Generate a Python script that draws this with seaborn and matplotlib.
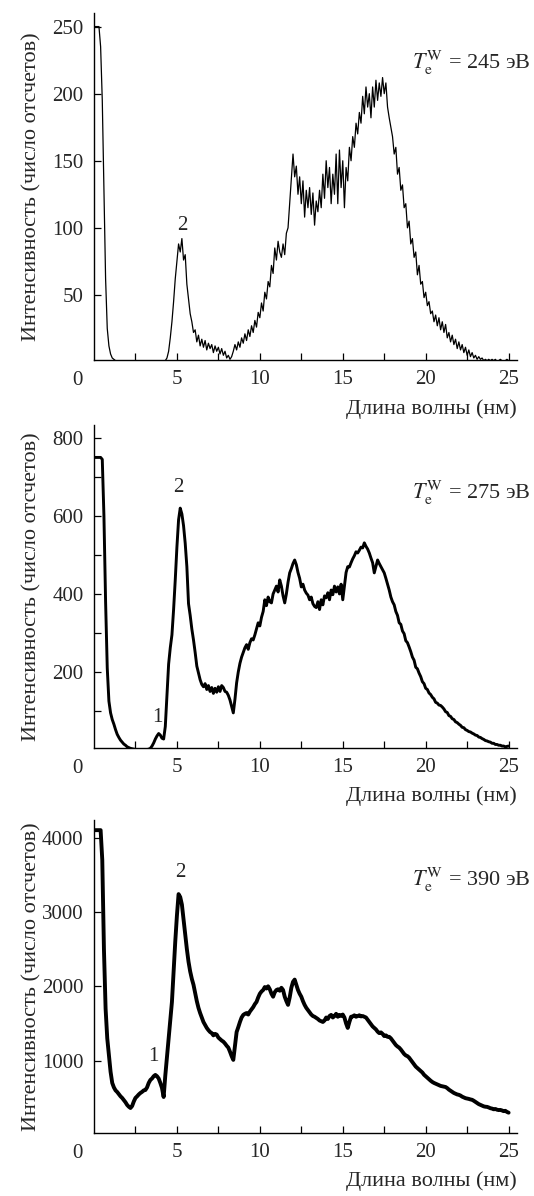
import numpy as np
import seaborn as sns
import matplotlib.pyplot as plt
from matplotlib.ticker import FixedLocator

sns.set_style('ticks')
plt.rcParams['font.family'] = ['Liberation Serif', 'DejaVu Serif']
plt.rcParams['mathtext.fontset'] = 'stix'

# Wavelength grid (nm), 0.1 nm sampling of the detector
wl = np.round(np.arange(0, 251) * 0.1, 1)

# T_e^W = 245 eV  (one row = 1 nm)
cnt_245 = [
    250, 250, 250, 250, 235, 195, 130, 62, 25, 12,
    6, 3, 2, 1, 1, 0.5, 0.5, 0.5, 0.5, 0.5,
    0.5, 0.5, 1, 0.5, 0.5, 0.5, 0.5, 0.5, 0.5, 0.5,
    0.5, 0.5, 0.5, 0.5, 0.5, 0.5, 0.5, 0.5, 0.5, 0.5,
    0.5, 0.5, 0.5, 1, 3, 8, 18, 30, 45, 62,
    75, 88, 82, 92, 76, 80, 58, 47, 36, 30,
    22, 24, 15, 20, 12, 17, 11, 16, 9, 14,
    10, 13, 7, 12, 8, 11, 6, 10, 5, 8,
    3, 5, 2, 4, 8, 13, 9, 15, 11, 18,
    14, 21, 16, 24, 19, 27, 22, 31, 26, 37,
    33, 44, 38, 52, 47, 60, 56, 72, 66, 85,
    76, 90, 82, 78, 88, 80, 96, 100, 118, 135,
    155, 138, 146, 125, 138, 118, 135, 108, 128, 115,
    130, 110, 126, 102, 120, 112, 128, 115, 140, 122,
    150, 130, 145, 118, 140, 125, 155, 118, 158, 130,
    150, 115, 145, 135, 160, 150, 168, 160, 178, 170,
    186, 178, 198, 185, 205, 190, 200, 182, 205, 190,
    210, 195, 208, 198, 212, 200, 208, 190, 182, 175,
    168, 155, 160, 140, 145, 128, 132, 115, 118, 100,
    105, 88, 92, 78, 82, 65, 72, 58, 60, 48,
    52, 42, 45, 36, 38, 30, 35, 27, 33, 24,
    30, 22, 28, 18, 22, 15, 20, 13, 17, 10,
    15, 9, 13, 7, 11, 5, 9, 4, 7, 3,
    5, 2, 4, 2, 3, 1, 2, 1, 2, 1,
    2, 1, 2, 0.5, 1, 2, 1, 0.5, 1, 2,
    1,
]

# T_e^W = 275 eV
cnt_275 = [
    750, 750, 750, 750, 750, 745, 600, 380, 210, 125,
    95, 78, 66, 52, 40, 32, 25, 20, 15, 12,
    8, 6, 4, 3, 2, 1, 1, 1, 1, 1,
    1, 1, 1, 2, 4, 10, 18, 28, 36, 42,
    38, 30, 28, 60, 140, 220, 262, 295, 360, 436,
    520, 590, 620, 605, 575, 530, 470, 375, 345, 310,
    282, 250, 215, 197, 180, 168, 162, 170, 155, 165,
    150, 160, 145, 158, 148, 162, 150, 165, 160, 150,
    148, 140, 128, 112, 95, 130, 172, 200, 222, 238,
    250, 262, 270, 258, 275, 285, 282, 295, 310, 326,
    318, 340, 355, 385, 370, 392, 380, 377, 400, 410,
    420, 405, 436, 420, 395, 377, 400, 430, 454, 465,
    478, 487, 475, 455, 440, 418, 425, 410, 402, 397,
    385, 392, 375, 368, 365, 380, 360, 385, 372, 395,
    390, 403, 385, 410, 398, 420, 405, 418, 400, 425,
    385, 420, 455, 470, 469, 480, 490, 498, 508, 505,
    512, 520, 518, 531, 522, 515, 505, 492, 480, 454,
    470, 487, 478, 470, 462, 454, 440, 425, 410, 392,
    380, 372, 355, 345, 326, 322, 305, 298, 280, 275,
    264, 252, 238, 230, 212, 208, 197, 188, 175, 170,
    158, 155, 146, 142, 135, 131, 122, 120, 115, 114,
    110, 105, 98, 96, 88, 86, 80, 78, 72, 70,
    66, 63, 58, 57, 52, 50, 47, 46, 43, 41,
    38, 37, 33, 32, 29, 27, 24, 23, 21, 20,
    17, 17, 14, 14, 12, 12, 10, 10, 8, 9,
    10,
]

# T_e^W = 390 eV
cnt_390 = [
    4100, 4100, 4100, 4100, 4100, 3700, 2500, 1700, 1300, 1075,
    850, 700, 640, 600, 578, 550, 520, 498, 470, 440,
    404, 380, 363, 390, 450, 498, 520, 545, 565, 580,
    600, 605, 640, 700, 740, 760, 790, 808, 790, 760,
    700, 632, 511, 800, 1050, 1300, 1550, 1790, 2200, 2600,
    2950, 3240, 3200, 3100, 2900, 2700, 2500, 2330, 2200, 2100,
    2020, 1910, 1800, 1710, 1640, 1580, 1520, 1480, 1440, 1410,
    1385, 1370, 1340, 1360, 1350, 1310, 1290, 1270, 1255, 1230,
    1200, 1175, 1120, 1060, 1010, 1200, 1385, 1450, 1520, 1580,
    1615, 1630, 1640, 1620, 1660, 1690, 1720, 1760, 1790, 1850,
    1900, 1930, 1950, 1990, 1970, 2000, 1960, 1900, 1860, 1920,
    1950, 1960, 1940, 1980, 1950, 1860, 1800, 1750, 1850, 1980,
    2060, 2090, 2020, 1950, 1900, 1860, 1800, 1750, 1710, 1680,
    1650, 1620, 1600, 1590, 1575, 1560, 1540, 1530, 1520, 1540,
    1580, 1560, 1600, 1615, 1580, 1600, 1630, 1590, 1615, 1600,
    1620, 1580, 1500, 1440, 1520, 1590, 1595, 1610, 1590, 1600,
    1610, 1595, 1600, 1590, 1580, 1550, 1520, 1490, 1460, 1440,
    1420, 1390, 1370, 1380, 1360, 1330, 1340, 1320, 1320, 1300,
    1270, 1240, 1210, 1190, 1175, 1150, 1120, 1090, 1070, 1060,
    1040, 1010, 980, 950, 920, 900, 880, 860, 840, 810,
    790, 770, 750, 730, 713, 700, 690, 680, 670, 660,
    655, 650, 645, 630, 610, 595, 580, 565, 555, 545,
    540, 530, 515, 505, 495, 490, 485, 478, 473, 460,
    445, 430, 415, 405, 395, 385, 380, 378, 370, 360,
    355, 345, 350, 340, 335, 337, 330, 320, 325, 310,
    300,
]

temps = ['245', '275', '390']
spectra = [cnt_245, cnt_275, cnt_390]
line_widths = [0.9, 2.1, 2.8]
ylims = [(1.5, 260), (5, 833), (27, 4237)]
major_yticks = [[50, 100, 150, 200, 250], [200, 400, 600, 800], [1000, 2000, 3000, 4000]]
minor_yticks = [[], [100, 300, 500, 700], []]
# peak labels: (label, wavelength, counts)
peak_labels = [
    [('2', 5.3, 102)],
    [('1', 3.8, 82), ('2', 5.1, 672)],
    [('1', 3.55, 1050), ('2', 5.2, 3537)],
]
note_y = [0.856, 0.789, 0.808]
xlabel_y = [-0.112, -0.118, -0.122]

# axes rectangles in figure fractions
boxes = [
    [0.176, 0.699, 0.792, 0.290],
    [0.176, 0.3746, 0.792, 0.270],
    [0.176, 0.0527, 0.792, 0.2617],
]

fig = plt.figure(figsize=(5.34, 11.96), dpi=100)

for i in range(3):
    ax = fig.add_axes(boxes[i])
    sns.lineplot(x=wl, y=spectra[i], ax=ax, color='black', lw=line_widths[i], sort=False)
    ax.set_xlim(0, 25.5)
    ax.set_ylim(*ylims[i])
    sns.despine(ax=ax)
    for s in ['left', 'bottom']:
        ax.spines[s].set_linewidth(1.0)
        ax.spines[s].set_color('black')

    ax.xaxis.set_major_locator(FixedLocator([5, 10, 15, 20, 25]))
    ax.xaxis.set_minor_locator(FixedLocator([2.5, 7.5, 12.5, 17.5, 22.5]))
    ax.yaxis.set_major_locator(FixedLocator(major_yticks[i]))
    ax.yaxis.set_minor_locator(FixedLocator(minor_yticks[i]))
    ax.tick_params(which='both', direction='in', length=5, width=0.9, color='black')
    ax.tick_params(axis='both', which='major', labelsize=15, pad=7.5)

    # origin label
    ax.annotate('0', xy=(-1.0, 0), xycoords=ax.get_xaxis_transform(),
                xytext=(0, -8), textcoords='offset points',
                ha='center', va='top', fontsize=15)

    ax.set_xlabel('Длина волны (нм)', fontsize=16)
    ax.xaxis.set_label_coords(1.0, xlabel_y[i])
    ax.xaxis.label.set_horizontalalignment('right')
    ax.set_ylabel('Интенсивность (число отсчетов)', fontsize=16)
    ax.yaxis.set_label_coords(-0.125, 0.5)

    ax.text(1.031, note_y[i], r'$T_{\mathrm{e}}^{\mathrm{W}}$ = ' + temps[i] + ' эВ',
            transform=ax.transAxes, ha='right', va='center', fontsize=16)

    for lab, x, y in peak_labels[i]:
        ax.text(x, y, lab, ha='center', va='center', fontsize=15)

fig.savefig('out.png', dpi=100)
